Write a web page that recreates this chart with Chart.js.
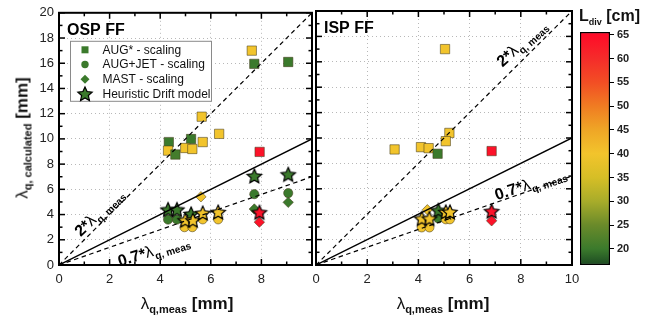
<!DOCTYPE html>
<html><head><meta charset="utf-8">
<script src="https://cdn.jsdelivr.net/npm/chart.js@4/dist/chart.umd.min.js"></script>
<style>
html,body{margin:0;padding:0;background:#fff;}
body{width:657px;height:325px;position:relative;overflow:hidden;font-family:"Liberation Sans",Arial,sans-serif;}
canvas{position:absolute;top:0;}
.ttl{position:absolute;white-space:nowrap;color:#111;font-size:17px;line-height:1;}
.ttl sub{font-size:11px;font-weight:bold;vertical-align:-4px;line-height:0;}
</style></head>
<body>
<canvas id="cL" width="320" height="325" style="left:0"></canvas>
<canvas id="cR" width="300" height="325" style="left:300px"></canvas>
<canvas id="cB" width="87" height="325" style="left:570px"></canvas>
<div class="ttl" style="left:22px;top:138px;transform:translate(-50%,-50%) rotate(-90deg)">λ<sub>q, calculated</sub> <b>[mm]</b></div>
<div class="ttl" style="left:187px;top:303px;transform:translate(-50%,-50%)">λ<sub>q,meas</sub> <b>[mm]</b></div>
<div class="ttl" style="left:443px;top:303px;transform:translate(-50%,-50%)">λ<sub>q,meas</sub> <b>[mm]</b></div>
<div class="ttl" style="left:579px;top:8px;font-weight:bold;font-size:16px">L<sub style="font-size:9px">div</sub> [cm]</div>
<script>
// ---------- DATA ----------
const xTicks = [0, 2, 4, 6, 8, 10];
const yTicks = [0, 2, 4, 6, 8, 10, 12, 14, 16, 18, 20];
const cbTicks = [20, 25, 30, 35, 40, 45, 50, 55, 60, 65];
const cbMin = 16.6, cbMax = 65.6;

// OSP FF
const ospAugStarX = [7.62, 7.72, 9.06, 5.64, 6.33, 4.34, 5.22, 4.31, 4.60, 4.99, 5.27, 5.68, 7.93];
const ospAugStarY = [17.0, 15.95, 16.1, 11.76, 10.4, 9.75, 9.99, 9.07, 8.76, 9.28, 9.2, 9.75, 8.97];
const ospAugStarL = [40, 20, 20, 40, 40, 20, 20, 40, 21, 40, 40, 40, 64];

const ospAugJetX = [7.72, 9.06, 4.31, 4.66, 4.96, 5.27, 5.68, 6.29];
const ospAugJetY = [5.62, 5.7, 3.6, 3.6, 3.0, 3.0, 3.62, 3.62];
const ospAugJetL = [20, 20, 20, 20, 40, 40, 40, 40];

const ospMastX = [5.61, 7.72, 9.06, 7.92];
const ospMastY = [5.41, 4.44, 4.97, 3.4];
const ospMastL = [40, 20, 20, 64];

const ospHdX = [4.31, 4.66, 5.22, 4.99, 5.29, 5.68, 6.29, 7.72, 9.06, 7.92];
const ospHdY = [4.4, 4.4, 4.05, 3.55, 3.55, 4.12, 4.2, 7.06, 7.19, 4.18];
const ospHdL = [20, 20, 20, 40, 40, 40, 40, 20, 20, 64];

// ISP FF
const ispAugStarX = [5.04, 5.21, 3.07, 4.10, 4.40, 5.07, 4.75, 6.86];
const ispAugStarY = [17.0, 10.4, 9.1, 9.28, 9.2, 9.75, 8.76, 8.97];
const ispAugStarL = [40, 40, 40, 40, 40, 40, 20, 64];

const ispAugJetX = [4.13, 4.43, 4.78, 5.07, 5.23];
const ispAugJetY = [2.96, 2.96, 3.66, 3.6, 3.6];
const ispAugJetL = [40, 40, 20, 40, 40];

const ispMastX = [4.35, 6.86];
const ispMastY = [4.35, 3.48];
const ispMastL = [40, 64];

const ispHdX = [4.78, 4.13, 4.43, 5.07, 5.23, 6.86];
const ispHdY = [4.31, 3.66, 3.66, 4.18, 4.18, 4.24];
const ispHdL = [20, 40, 40, 40, 40, 64];

// reference lines
const refX = [0, 10];
const ref1Y = [0, 10];
const ref2Y = [0, 20];
const ref07Y = [0, 7];

const legendLabels = ['AUG* - scaling', 'AUG+JET - scaling', 'MAST - scaling', 'Heuristic Drift model'];

// ---------- HELPERS ----------
const FONT = '"Liberation Sans", Arial, sans-serif';
const stops = [[16.6,'#1c4a22'],[20,'#3b7a2c'],[25,'#6a8a2a'],[30,'#a8ac2a'],[35,'#d6be26'],[40,'#f2c42c'],[45,'#efa626'],[50,'#f07c22'],[55,'#f24e24'],[60,'#f52c2a'],[65.6,'#ff0828']];
function hex2rgb(h){return [1,3,5].map(i=>parseInt(h.substr(i,2),16));}
function cmap(v){
  if (v <= stops[0][0]) return stops[0][1];
  for (let i = 1; i < stops.length; i++) {
    if (v <= stops[i][0]) {
      const [a, ca] = stops[i-1], [b, cb] = stops[i];
      const t = (v - a) / (b - a);
      const A = hex2rgb(ca), B = hex2rgb(cb);
      return 'rgb(' + A.map((x,k)=>Math.round(x + (B[k]-x)*t)).join(',') + ')';
    }
  }
  return stops[stops.length-1][1];
}
function drawStar(g, cx, cy, R, color){
  const r = R * 0.47;
  g.beginPath();
  for (let i = 0; i < 10; i++) {
    const a = -Math.PI/2 + i*Math.PI/5;
    const rr = i % 2 ? r : R;
    g.lineTo(cx + rr*Math.cos(a), cy + rr*Math.sin(a));
  }
  g.closePath();
  g.fillStyle = color; g.fill();
  g.lineWidth = 1.2; g.strokeStyle = '#000'; g.lineJoin = 'miter'; g.stroke();
}
const starCache = {};
function starImg(color, R){
  const key = color + R;
  if (starCache[key]) return starCache[key];
  const s = Math.ceil(R*2 + 4);
  const c = document.createElement('canvas'); c.width = s; c.height = s;
  drawStar(c.getContext('2d'), s/2, s/2 + 0.7, R, color);
  starCache[key] = c; return c;
}
function pts(xs, ys, ls){ return xs.map((x,i)=>({x, y: ys[i], l: ls[i]})); }
function markers(xs, ys, ls, style, radius, order){
  return {
    data: pts(xs, ys, ls), order,
    pointStyle: style === 'star' ? (c => c.raw ? starImg(cmap(c.raw.l), 7.6) : 'circle') : style,
    pointRadius: radius,
    pointBackgroundColor: c => c.raw ? cmap(c.raw.l) : '#888',
    pointBorderColor: style === 'star' ? '#000' : 'rgba(70,60,30,0.55)',
    pointBorderWidth: 1, showLine: false
  };
}
function refLine(ys, dash, w){
  return { data: refX.map((x,i)=>({x, y: ys[i]})), showLine: true, pointRadius: 0,
    borderColor: '#000', borderWidth: w, borderDash: dash, fill: false, order: 0 };
}
function drawRefText(ctx, cx, cy, ang, big, sub){
  ctx.save(); ctx.translate(cx, cy); ctx.rotate(ang*Math.PI/180);
  ctx.fillStyle = '#000'; ctx.textBaseline = 'alphabetic'; ctx.textAlign = 'left';
  const f1 = 'bold 16px ' + FONT, f2 = '16px ' + FONT, f3 = 'bold 10px ' + FONT;
  ctx.font = f1; const w1 = ctx.measureText(big).width;
  ctx.font = f2; const w2 = ctx.measureText('λ').width;
  ctx.font = f3; const w3 = ctx.measureText(sub).width;
  let xx = -(w1 + w2 + w3) / 2;
  ctx.font = f1; ctx.fillText(big, xx, 6); xx += w1;
  ctx.font = f2; ctx.fillText('λ', xx, 6); xx += w2 + 0.5;
  ctx.font = f3; ctx.fillText(sub, xx, 10);
  ctx.restore();
}

const framePlugin = {
  id: 'frame',
  afterDatasetsDraw(chart){
    const {ctx, chartArea: a, scales: {x, y}} = chart;
    ctx.save(); ctx.strokeStyle = '#000'; ctx.lineWidth = 1.5;
    const ln = (x1,y1,x2,y2)=>{ctx.beginPath(); ctx.moveTo(x1,y1); ctx.lineTo(x2,y2); ctx.stroke();};
    for (let v = 0; v <= 10; v++) {
      const px = x.getPixelForValue(v), L = v % 2 === 0 ? 6 : 3.5;
      ln(px, a.bottom, px, a.bottom - L); ln(px, a.top, px, a.top + L);
    }
    for (let v = 0; v <= 20; v++) {
      const py = y.getPixelForValue(v), L = v % 2 === 0 ? 6 : 3.5;
      ln(a.left, py, a.left + L, py); ln(a.right, py, a.right - L, py);
    }
    ctx.lineWidth = 2;
    ctx.strokeRect(a.left, a.top, a.right - a.left, a.bottom - a.top);
    ctx.restore();
  }
};

function annotPlugin(side){
  return {
    id: 'annot' + side,
    afterDatasetsDraw(chart){
      const {ctx, chartArea: a, scales: {x, y}} = chart;
      ctx.save();
      ctx.fillStyle = '#000'; ctx.font = 'bold 16px ' + FONT; ctx.textBaseline = 'alphabetic';
      ctx.fillText(side === 'L' ? 'OSP FF' : 'ISP FF', a.left + 8, a.top + 22);
      if (side === 'L') {
        drawRefText(ctx, x.getPixelForValue(1.55), y.getPixelForValue(4.2), -44, '2*', 'q, meas');
        drawRefText(ctx, x.getPixelForValue(3.72), y.getPixelForValue(1.2), -17, '0.7*', 'q, meas');
        // legend
        const bx = a.left + 11.5, by = a.top + 28.5, bw = 141, bh = 60;
        ctx.fillStyle = '#fff'; ctx.fillRect(bx, by, bw, bh);
        ctx.strokeStyle = '#8a8a8a'; ctx.lineWidth = 1; ctx.strokeRect(bx, by, bw, bh);
        const g = cmap(20), mx = bx + 14.5;
        ctx.font = '12px ' + FONT; ctx.textBaseline = 'middle';
        legendLabels.forEach((t, i) => {
          const my = by + 8.5 + i * 14.7;
          ctx.fillStyle = g; ctx.strokeStyle = 'rgba(40,60,30,0.6)';
          if (i === 0) { ctx.fillRect(mx - 3.5, my - 3.5, 7, 7); }
          else if (i === 1) { ctx.beginPath(); ctx.arc(mx, my, 3.7, 0, Math.PI*2); ctx.fill(); }
          else if (i === 2) { ctx.beginPath(); ctx.moveTo(mx, my-4.5); ctx.lineTo(mx+4.5, my); ctx.lineTo(mx, my+4.5); ctx.lineTo(mx-4.5, my); ctx.closePath(); ctx.fill(); }
          else { drawStar(ctx, mx, my + 0.5, 7.5, g); }
          ctx.fillStyle = '#111'; ctx.fillText(t, bx + 32, my + 0.5);
        });
      } else {
        drawRefText(ctx, x.getPixelForValue(8.0), y.getPixelForValue(17.5), -42, '2*', 'q, meas');
        drawRefText(ctx, x.getPixelForValue(8.36), y.getPixelForValue(6.45), -18, '0.7*', 'q, meas');
      }
      ctx.restore();
    }
  };
}

function panelOpts(side){
  const grid = {color: '#b8b8b8', lineWidth: 1, drawTicks: false};
  const border = {display: false, dash: [1, 3]};
  return {
    responsive: false, animation: false, events: [],
    layout: {padding: side === 'L' ? {top: 11, right: 5, left: 0, bottom: 0} : {top: 11, right: 28, left: 0, bottom: 0}},
    plugins: {legend: {display: false}, tooltip: {enabled: false}},
    scales: {
      x: {type: 'linear', min: 0, max: 10,
        afterFit: s => { s.height = 60; },
        afterBuildTicks: s => { s.ticks = xTicks.map(v => ({value: v})); },
        ticks: {font: {family: FONT, size: 13}, color: '#222', padding: 7, maxRotation: 0, autoSkip: false,
          callback: v => (side === 'L' && v === 10) ? '' : String(v)},
        grid, border},
      y: {type: 'linear', min: 0, max: 20,
        afterFit: s => { s.width = side === 'L' ? 59 : 16; },
        afterBuildTicks: s => { s.ticks = yTicks.map(v => ({value: v})); },
        ticks: {display: side === 'L', font: {family: FONT, size: 13}, color: '#222', padding: 5, autoSkip: false},
        grid, border}
    }
  };
}

function panelData(sq, ci, di, st){
  return {datasets: [
    markers(sq[0], sq[1], sq[2], 'rect', 6.6, 4),
    markers(ci[0], ci[1], ci[2], 'circle', 4.6, 3),
    markers(di[0], di[1], di[2], 'rectRot', 5.2, 2),
    markers(st[0], st[1], st[2], 'star', 7, 1),
    refLine(ref1Y, [], 1.4),
    refLine(ref2Y, [4.5, 3.5], 1.2),
    refLine(ref07Y, [4.5, 3.5], 1.2)
  ]};
}

new Chart(document.getElementById('cL'), {
  type: 'scatter',
  data: panelData([ospAugStarX, ospAugStarY, ospAugStarL], [ospAugJetX, ospAugJetY, ospAugJetL],
                  [ospMastX, ospMastY, ospMastL], [ospHdX, ospHdY, ospHdL]),
  options: panelOpts('L'),
  plugins: [framePlugin, annotPlugin('L')]
});
new Chart(document.getElementById('cR'), {
  type: 'scatter',
  data: panelData([ispAugStarX, ispAugStarY, ispAugStarL], [ispAugJetX, ispAugJetY, ispAugJetL],
                  [ispMastX, ispMastY, ispMastL], [ispHdX, ispHdY, ispHdL]),
  options: panelOpts('R'),
  plugins: [framePlugin, annotPlugin('R')]
});

new Chart(document.getElementById('cB'), {
  type: 'bar',
  data: {labels: ['L'], datasets: [{
    data: [[cbMin, cbMax]],
    backgroundColor: c => {
      const ch = c.chart; if (!ch.chartArea) return null;
      const ys = ch.scales.y;
      const g = ch.ctx.createLinearGradient(0, ys.getPixelForValue(cbMin), 0, ys.getPixelForValue(cbMax));
      stops.forEach(([v, col]) => g.addColorStop((v - cbMin) / (cbMax - cbMin), col));
      return g;
    },
    borderColor: '#000', borderWidth: 1.5, borderSkipped: false,
    barPercentage: 1, categoryPercentage: 1
  }]},
  options: {
    responsive: false, animation: false, events: [],
    layout: {padding: {left: 10, top: 32, bottom: 60, right: 0}},
    plugins: {legend: {display: false}, tooltip: {enabled: false}},
    scales: {
      x: {display: false},
      y: {position: 'right', min: cbMin, max: cbMax,
        afterFit: s => { s.width = 47; },
        afterBuildTicks: s => { s.ticks = cbTicks.map(v => ({value: v})); },
        ticks: {font: {family: FONT, size: 11, weight: 'bold'}, color: '#222', padding: 3, autoSkip: false},
        grid: {drawOnChartArea: false, drawTicks: true, tickLength: 4, color: '#000', lineWidth: 1},
        border: {display: false}}
    }
  }
});
</script>
</body></html>
